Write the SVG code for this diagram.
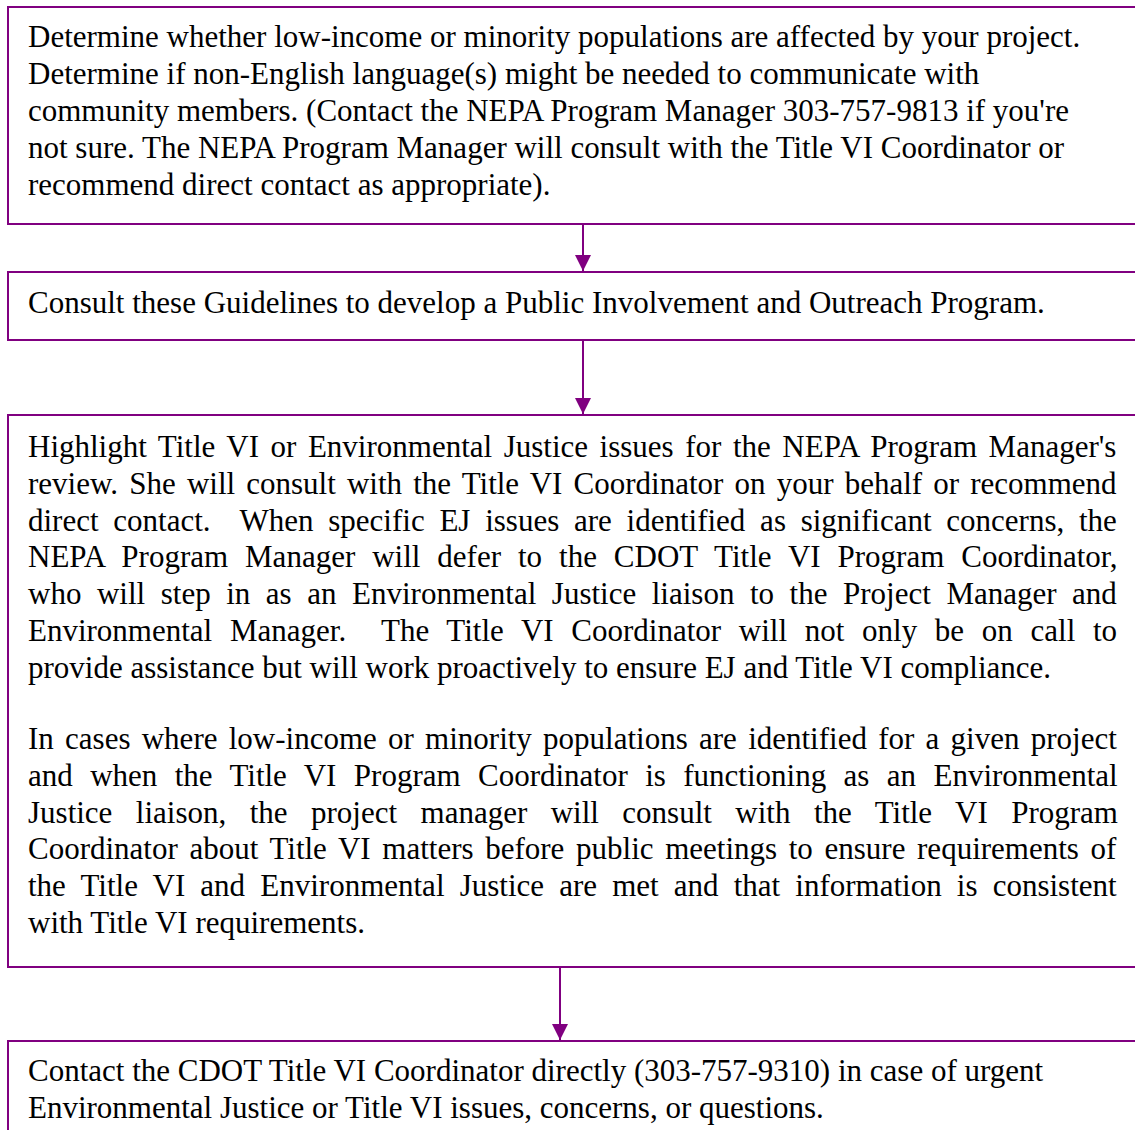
<svg xmlns="http://www.w3.org/2000/svg" width="1135" height="1130" viewBox="0 0 1135 1130">
<style>
.box{fill:#fff;stroke:#800080;stroke-width:2}
.t{font-family:"Liberation Serif","Times New Roman",serif;font-size:31px;fill:#000}
.c{stroke:#800080;stroke-width:2;fill:none}
</style>
<defs>
<marker id="ah" markerWidth="16" markerHeight="16" viewBox="0 0 16 16" refX="16" refY="8" orient="auto" markerUnits="userSpaceOnUse">
<path d="M0,0 L16,8 L0,16 Z" fill="#800080"/>
</marker>
</defs>
<rect width="1135" height="1130" fill="#fff"/>
<g id="node1">
<rect class="box" x="8" y="7" width="1140" height="217"/>
<text class="t" x="28" y="47">Determine whether low-income or minority populations are affected by your project.</text>
<text class="t" x="28" y="84">Determine if non-English language(s) might be needed to communicate with</text>
<text class="t" x="28" y="121">community members. (Contact the NEPA Program Manager 303-757-9813 if you're</text>
<text class="t" x="28" y="158">not sure. The NEPA Program Manager will consult with the Title VI Coordinator or</text>
<text class="t" x="28" y="195">recommend direct contact as appropriate).</text>
</g>
<g id="node2">
<rect class="box" x="8" y="272" width="1140" height="68"/>
<text class="t" x="28" y="312.5">Consult these Guidelines to develop a Public Involvement and Outreach Program.</text>
</g>
<g id="node3">
<rect class="box" x="8" y="415" width="1140" height="552"/>
<text class="t" x="28" y="457" word-spacing="3.8">Highlight Title VI or Environmental Justice issues for the NEPA Program Manager's</text>
<text class="t" x="28" y="493.8" word-spacing="3.4">review. She will consult with the Title VI Coordinator on your behalf or recommend</text>
<text class="t" x="28" y="530.6" word-spacing="7.0" xml:space="preserve">direct contact.  When specific EJ issues are identified as significant concerns, the</text>
<text class="t" x="28" y="567.4" word-spacing="9.2">NEPA Program Manager will defer to the CDOT Title VI Program Coordinator,</text>
<text class="t" x="28" y="604.2" word-spacing="7.8">who will step in as an Environmental Justice liaison to the Project Manager and</text>
<text class="t" x="28" y="641" word-spacing="9.95" xml:space="preserve">Environmental Manager.  The Title VI Coordinator will not only be on call to</text>
<text class="t" x="28" y="677.8">provide assistance but will work proactively to ensure EJ and Title VI compliance.</text>
<text class="t" x="28" y="749" word-spacing="3.5">In cases where low-income or minority populations are identified for a given project</text>
<text class="t" x="28" y="785.8" word-spacing="9.65">and when the Title VI Program Coordinator is functioning as an Environmental</text>
<text class="t" x="28" y="822.6" word-spacing="15.7">Justice liaison, the project manager will consult with the Title VI Program</text>
<text class="t" x="28" y="859.4" word-spacing="3.9">Coordinator about Title VI matters before public meetings to ensure requirements of</text>
<text class="t" x="28" y="896.2" word-spacing="7.4">the Title VI and Environmental Justice are met and that information is consistent</text>
<text class="t" x="28" y="933">with Title VI requirements.</text>
</g>
<g id="node4">
<rect class="box" x="8" y="1041" width="1140" height="120"/>
<text class="t" x="28" y="1081">Contact the CDOT Title VI Coordinator directly (303-757-9310) in case of urgent</text>
<text class="t" x="28" y="1117.8">Environmental Justice or Title VI issues, concerns, or questions.</text>
</g>
<g id="connectors">
<line class="c" x1="583" y1="224" x2="583" y2="271" marker-end="url(#ah)"/>
<line class="c" x1="583" y1="340" x2="583" y2="414" marker-end="url(#ah)"/>
<line class="c" x1="560" y1="967" x2="560" y2="1040" marker-end="url(#ah)"/>
</g>
</svg>
